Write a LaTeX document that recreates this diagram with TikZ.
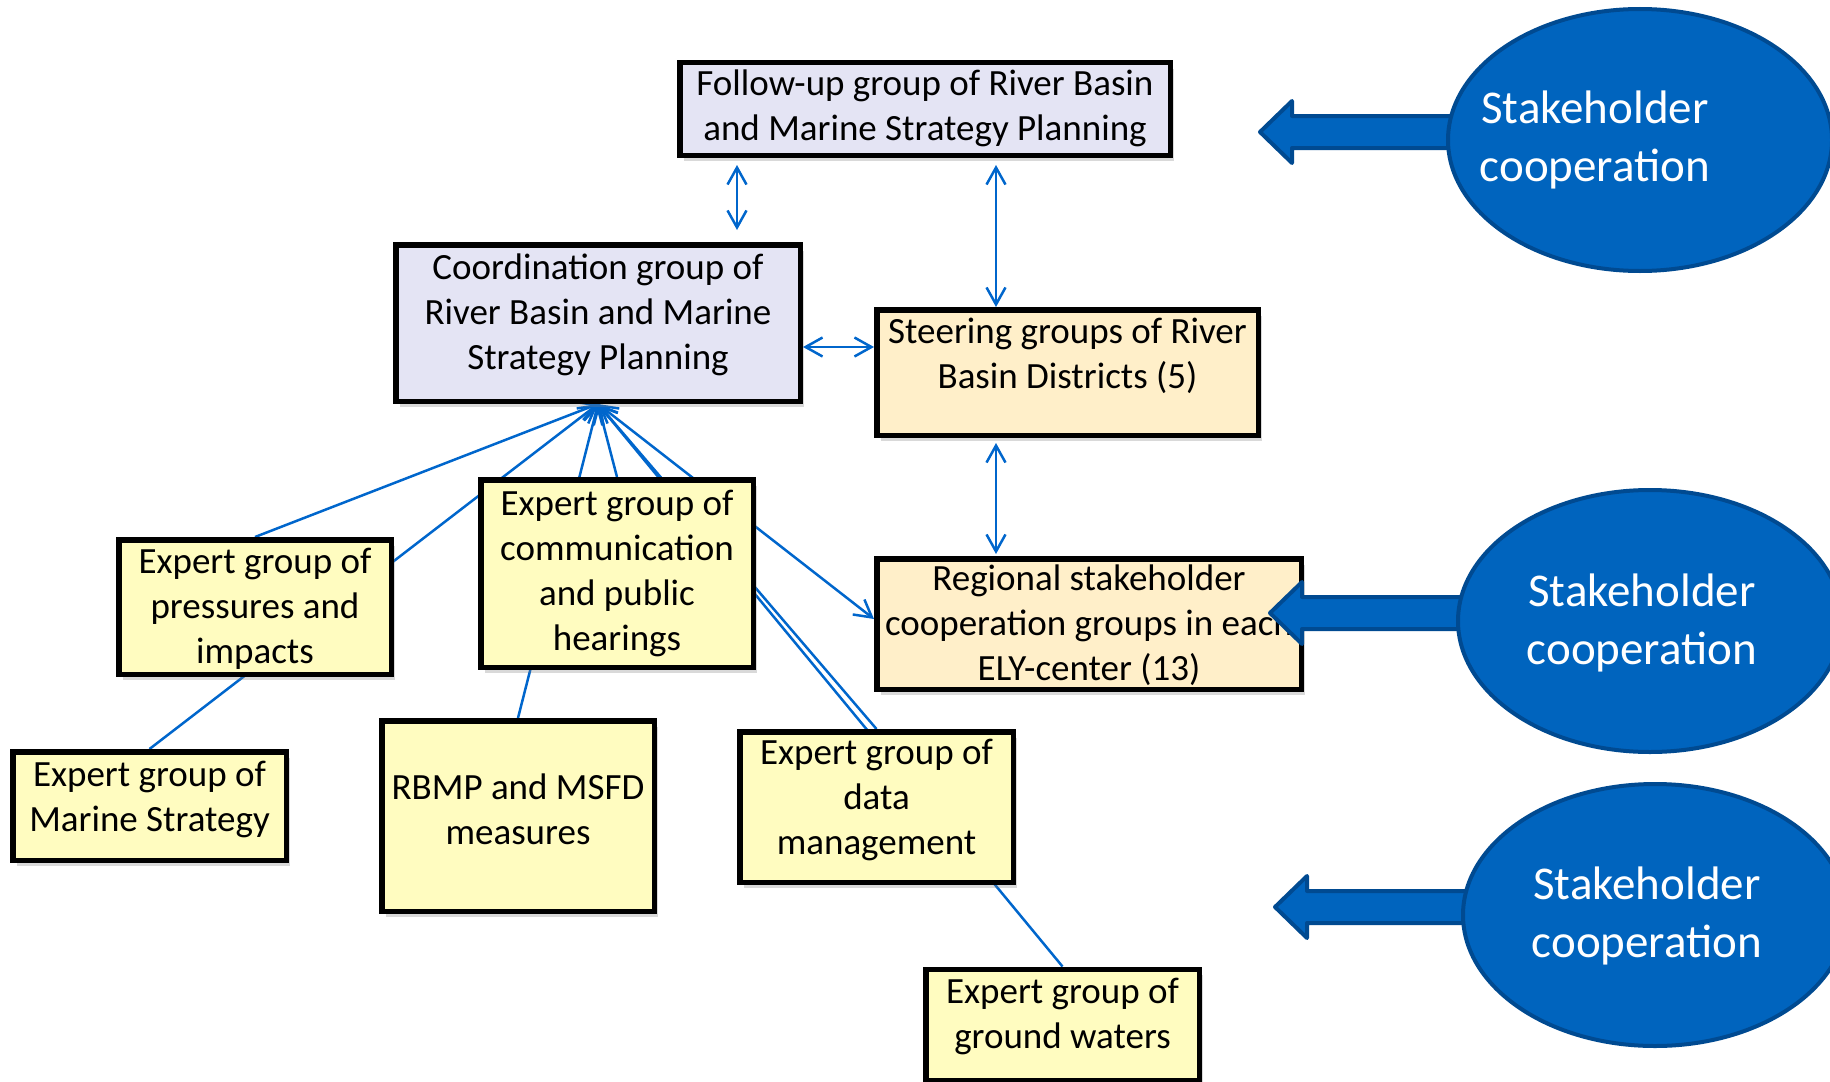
\documentclass[tikz,border=0pt]{standalone}
\usepackage{fontspec}
\setmainfont{Carlito}
\usetikzlibrary{shapes.geometric}
\usetikzlibrary{arrows.meta}
\usetikzlibrary{shadows}
\definecolor{lavender}{RGB}{228, 228, 244}
\definecolor{peach}{RGB}{255, 239, 201}
\definecolor{lemon}{RGB}{255, 252, 192}
\definecolor{linkblue}{RGB}{0, 102, 204}
\definecolor{stakeblue}{RGB}{0, 100, 190}
\definecolor{stakeedge}{RGB}{0, 74, 145}
\pgfdeclarelayer{background}
\pgfdeclarelayer{front}
\pgfsetlayers{background,main,front}
\tikzset{
  groupbox/.style={draw=black, line width=5.5pt, align=center, inner sep=1pt,
                   font=\fontsize{37}{45}\selectfont,
                   drop shadow={shadow xshift=4pt, shadow yshift=-6pt, opacity=0.3}},
  plangroup/.style={groupbox, fill=lavender},
  steergroup/.style={groupbox, fill=peach},
  expertgroup/.style={groupbox, fill=lemon},
  link/.style={draw=linkblue, line width=2.5pt, >={Straight Barb[length=17pt, width=19pt]}},
  stake/.style={ellipse, fill=stakeblue, draw=stakeedge, line width=4pt,
                minimum width=384pt, minimum height=262pt},
  staketext/.style={text=white, align=center, font=\fontsize{47}{58}\selectfont},
  stakearrow/.style={fill=stakeblue, draw=stakeedge, line width=4pt, line join=round},
}
\begin{document}
\begin{tikzpicture}[x=1pt, y=-1pt]
  \useasboundingbox (0,0) rectangle (1830,1081);
  % planning groups
  \node[plangroup, minimum width=490.5pt, minimum height=92.5pt, text depth=7pt] (fup) at (925,109)
       {Follow-up group of River Basin\\and Marine Strategy Planning};
  \node[plangroup, minimum width=404.5pt, minimum height=156.5pt, text depth=22pt] (coord) at (598,323)
       {Coordination group of\\River Basin and Marine\\Strategy Planning};
  % steering and regional groups
  \node[steergroup, minimum width=381.5pt, minimum height=125.5pt, text depth=38pt] (steer) at (1067.5,372.5)
       {Steering groups of River\\Basin Districts (5)};
  \node[steergroup, minimum width=424.5pt, minimum height=130.5pt, text depth=3pt] (region) at (1089,624)
       {Regional stakeholder\\cooperation groups in each\\ELY-center (13)};
  % expert groups
  \node[expertgroup, minimum width=272.5pt, minimum height=134.5pt, text depth=2pt] (press) at (255,607)
       {Expert group of\\pressures and\\impacts};
  \node[expertgroup, minimum width=272.5pt, minimum height=187.5pt] (comm) at (617,573.5)
       {Expert group of\\communication\\and public\\hearings};
  \node[expertgroup, minimum width=273.5pt, minimum height=108.5pt, text depth=20pt] (marine) at (149.5,806)
       {Expert group of\\Marine Strategy};
  \node[expertgroup, minimum width=272.5pt, minimum height=190.5pt, text depth=13pt] (rbmp) at (518,816)
       {RBMP and MSFD\\measures};
  \node[expertgroup, minimum width=273.5pt, minimum height=150.5pt, text depth=20pt] (data) at (876.5,807)
       {Expert group of\\data\\management};
  \node[expertgroup, minimum width=273.5pt, minimum height=111.5pt, text depth=24pt] (ground) at (1062.5,1025)
       {Expert group of\\ground waters};

  % links into the coordination group, behind the boxes
  \begin{pgfonlayer}{background}
    \foreach \g in {press,marine,rbmp,comm,data,ground}
      \draw[link,<-] (coord.south) -- (\g.north);
    \draw[link,<->] (coord.south) -- ([yshift=5pt]region.west);
  \end{pgfonlayer}
  \draw[link,<->] ([xshift=-188pt,yshift=-7pt]fup.south) -- ([xshift=139pt,yshift=12pt]coord.north);
  \draw[link,<->] ([xshift=71pt,yshift=-7pt]fup.south) -- ([xshift=-71.5pt]steer.north);
  \draw[link,<->] ([yshift=-24pt]coord.east) -- ([yshift=25.5pt]steer.west);
  \draw[link,<->] ([xshift=-71.5pt,yshift=-5pt]steer.south) -- ([xshift=-93pt,yshift=2pt]region.north);

  % stakeholder cooperation
  \begin{pgfonlayer}{front}
    \node[stake] (s1) at (1640,140) {};
    \node[stake] (s2) at (1650,621) {};
    \node[stake] (s3) at (1655,915) {};
    \node[staketext] (t1) at ([xshift=-45pt,yshift=0.5pt]s1.center) {Stakeholder\\cooperation};
    \node[staketext] (t2) at ([xshift=-8pt,yshift=-1.5pt]s2.center) {Stakeholder\\cooperation};
    \node[staketext] (t3) at ([xshift=-8pt,yshift=-0.5pt]s3.center) {Stakeholder\\cooperation};
  \end{pgfonlayer}
  \foreach \s in {s1,s2,s3}
    \draw[stakearrow] ([xshift=6pt,yshift=8pt]\s.west) -- ++(0,-16) -- ++(-160,0) -- ++(0,-15)
         -- ++(-32,31) -- ++(32,31) -- ++(0,-15) -- ++(160,0) -- cycle;
\end{tikzpicture}
\end{document}
